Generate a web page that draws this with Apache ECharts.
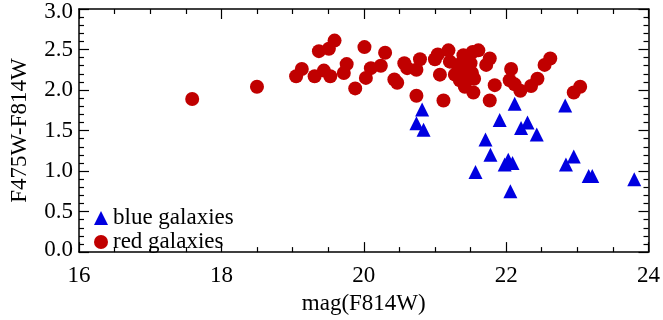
<!DOCTYPE html>
<html>
<head>
<meta charset="utf-8">
<script src="https://cdn.jsdelivr.net/npm/echarts@6/dist/echarts.min.js"></script>
<style>
html,body{margin:0;padding:0;background:#fff;}
#chart{width:663px;height:320px;}
</style>
</head>
<body>
<div id="chart"></div>
<script>
// Red galaxies: magnitude F814W and colour F475W-F814W
const redMag = [17.59,18.50,19.05,19.13,19.31,19.37,19.44,19.53,19.51,19.59,19.72,19.76,19.88,20.01,20.03,20.10,20.24,20.30,20.43,20.47,20.57,20.61,20.74,20.79,20.74,21.00,21.04,21.07,21.12,21.19,21.21,21.28,21.33,21.37,21.40,21.42,21.45,21.48,21.50,21.53,21.54,21.55,21.61,21.72,21.77,21.77,21.84,22.07,22.05,22.12,22.20,22.35,22.44,22.54,22.62,22.95,23.04,21.35,21.46,21.52];
const redColor = [1.89,2.04,2.17,2.26,2.17,2.48,2.24,2.17,2.51,2.61,2.21,2.32,2.02,2.53,2.15,2.27,2.30,2.46,2.13,2.09,2.33,2.27,2.25,2.38,1.93,2.38,2.44,2.19,1.87,2.49,2.35,2.19,2.27,2.33,2.43,2.04,2.17,2.25,2.33,2.47,1.97,2.14,2.49,2.31,2.39,1.87,2.06,2.26,2.12,2.07,1.99,2.05,2.14,2.31,2.39,1.97,2.04,2.12,2.30,2.21];
// Blue galaxies
const blueMag = [20.82,20.74,20.84,22.12,21.91,21.71,21.78,21.57,22.03,21.98,22.09,22.06,22.21,22.30,22.43,22.83,22.95,22.84,23.16,23.21,23.80];
const blueColor = [1.76,1.59,1.51,1.83,1.63,1.39,1.20,0.99,1.14,1.08,1.10,0.75,1.53,1.60,1.45,1.81,1.18,1.08,0.94,0.94,0.90];
const seriesNames = ['blue galaxies','red galaxies'];
const xTicks = {min:16, max:24, step:2};
const yTicks = {min:0, max:3, step:0.5};

const FONT = 'Liberation Serif';
const FS = 23;
const zip = (a,b) => a.map((v,i)=>[v,b[i]]);
const tickStyle = {color:'#000', width:1.2};

function xAx(pos, showLabel){
  return {
    type:'value', position:pos, min:xTicks.min, max:xTicks.max, interval:xTicks.step,
    axisLine:{show:true, onZero:false, lineStyle:{color:'#000', width:1.5}},
    axisTick:{show:true, inside:true, length:10, lineStyle:tickStyle},
    minorTick:{show:true, splitNumber:4, length:5, lineStyle:tickStyle},
    splitLine:{show:false},
    axisLabel:{show:showLabel, margin:12, color:'#000', fontFamily:FONT, fontSize:FS},
    name: showLabel ? 'mag(F814W)' : '', nameLocation:'middle', nameGap:33,
    nameTextStyle:{color:'#000', fontFamily:FONT, fontSize:FS}
  };
}
function yAx(pos, showLabel){
  return {
    type:'value', position:pos, min:yTicks.min, max:yTicks.max, interval:yTicks.step,
    axisLine:{show:true, onZero:false, lineStyle:{color:'#000', width:1.5}},
    axisTick:{show:true, inside:true, length:10, lineStyle:tickStyle},
    minorTick:{show:true, splitNumber:5, length:5, lineStyle:tickStyle},
    splitLine:{show:false},
    axisLabel:{show:showLabel, margin:6, color:'#000', fontFamily:FONT, fontSize:FS,
      formatter:function(v){
        const s = v.toFixed(1);
        if (v === yTicks.min) return '{lo|'+s+'}';
        if (v === yTicks.max) return '{hi|'+s+'}';
        return s;
      },
      rich:{
        lo:{fontFamily:FONT, fontSize:FS, color:'#000', padding:[0,0,4,0]},
        hi:{fontFamily:FONT, fontSize:FS, color:'#000', padding:[6,0,0,0]}
      }
    },
    name: showLabel ? 'F475W-F814W' : '', nameLocation:'middle', nameGap:48,
    nameTextStyle:{color:'#000', fontFamily:FONT, fontSize:FS}
  };
}

const chart = echarts.init(document.getElementById('chart'), null, {renderer:'canvas'});
chart.setOption({
  animation:false,
  backgroundColor:'#fff',
  grid:{left:79, right:12, top:9, bottom:62, containLabel:false},
  xAxis:[xAx('bottom', true), xAx('top', false)],
  yAxis:[yAx('left', true), yAx('right', false)],
  legend:{
    orient:'vertical', left:94, top:206, padding:0, itemWidth:14, itemHeight:14, itemGap:0,
    textStyle:{color:'#000', fontFamily:FONT, fontSize:FS, lineHeight:24},
    data:[{name:seriesNames[0], icon:'triangle'},{name:seriesNames[1], icon:'circle'}]
  },
  series:[
    {name:seriesNames[1], type:'scatter', symbol:'circle', symbolSize:14,
     itemStyle:{color:'#c00000', opacity:1}, data:zip(redMag, redColor), z:2},
    {name:seriesNames[0], type:'scatter', symbol:'triangle', symbolSize:14,
     itemStyle:{color:'#0000e0', opacity:1}, data:zip(blueMag, blueColor), z:3}
  ]
});
</script>
</body>
</html>
